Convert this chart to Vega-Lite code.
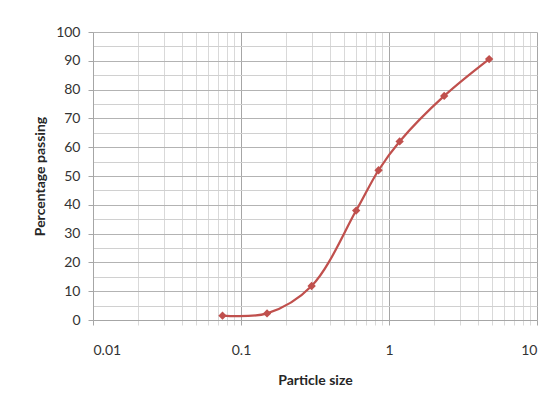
{
  "$schema": "https://vega.github.io/schema/vega-lite/v6.json",
  "width": 444,
  "height": 288,
  "autosize": {"type": "none"},
  "padding": {"left": 93, "top": 32, "right": 10, "bottom": 83},
  "background": "white",
  "config": {"view": {"stroke": null}, "font": "Lato"},
  "data": {
    "values": [
      {"size": 0.075, "passing": 1.5},
      {"size": 0.15, "passing": 2.3},
      {"size": 0.3, "passing": 11.8},
      {"size": 0.6, "passing": 38},
      {"size": 0.85, "passing": 52},
      {"size": 1.18, "passing": 62},
      {"size": 2.36, "passing": 77.8},
      {"size": 4.75, "passing": 90.6}
    ]
  },
  "encoding": {
    "x": {
      "field": "size",
      "type": "quantitative",
      "scale": {"type": "log", "domain": [0.01, 10], "nice": false},
      "axis": {
        "title": "Particle size",
        "titleFont": "Lato",
        "titleFontSize": 14,
        "titleFontWeight": "bold",
        "titleColor": "#262626",
        "titlePadding": 16,
        "values": [0.01, 0.02, 0.03, 0.04, 0.05, 0.06, 0.07, 0.08, 0.09, 0.1, 0.2, 0.3, 0.4, 0.5, 0.6, 0.7, 0.8, 0.9, 1, 2, 3, 4, 5, 6, 7, 8, 9, 10],
        "labelExpr": "abs(log(datum.value)/LN10 - round(log(datum.value)/LN10)) < 0.001 ? toString(datum.value) : ''",
        "labelOverlap": false,
        "labelFont": "Lato",
        "labelFontSize": 14,
        "labelColor": "#333333",
        "labelPadding": 18,
        "grid": true,
        "gridColor": {"condition": {"test": "abs(log(datum.value)/LN10 - round(log(datum.value)/LN10)) < 0.001", "value": "#a6a6a6"}, "value": "#d9d9d9"},
        "gridWidth": 1,
        "tickColor": {"condition": {"test": "abs(log(datum.value)/LN10 - round(log(datum.value)/LN10)) < 0.001", "value": "#a6a6a6"}, "value": "#d9d9d9"},
        "tickSize": 5,
        "domain": true,
        "domainColor": "#a6a6a6"
      }
    },
    "y": {
      "field": "passing",
      "type": "quantitative",
      "scale": {"domain": [0, 100], "nice": false},
      "axis": {
        "title": "Percentage passing",
        "titleFont": "Lato",
        "titleFontSize": 14,
        "titleFontWeight": "bold",
        "titleColor": "#262626",
        "titlePadding": 8,
        "values": [0, 5, 10, 15, 20, 25, 30, 35, 40, 45, 50, 55, 60, 65, 70, 75, 80, 85, 90, 95, 100],
        "labelExpr": "datum.value % 10 === 0 ? toString(datum.value) : ''",
        "labelOverlap": false,
        "labelFont": "Lato",
        "labelFontSize": 14,
        "labelColor": "#333333",
        "labelPadding": 8,
        "grid": true,
        "gridColor": {"condition": {"test": "datum.value % 10 === 0", "value": "#b3b3b3"}, "value": "#d0d0d0"},
        "tickColor": {"condition": {"test": "datum.value % 10 === 0", "value": "#a6a6a6"}, "value": "rgba(0,0,0,0)"},
        "tickSize": 5,
        "domain": true,
        "domainColor": "#a6a6a6"
      }
    }
  },
  "layer": [
    {
      "mark": {"type": "line", "interpolate": "catmull-rom", "color": "#C0504D", "strokeWidth": 2.25}
    },
    {
      "mark": {"type": "point", "shape": "diamond", "filled": true, "color": "#C0504D", "size": 70, "opacity": 1}
    }
  ]
}
